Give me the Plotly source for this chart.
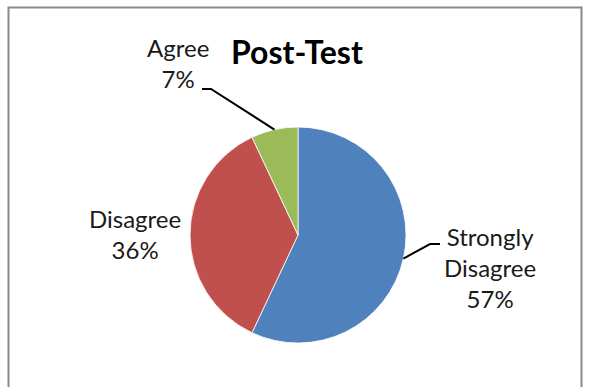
import math
import plotly.graph_objects as go

# Survey responses after the test (percent of respondents)
categories = ["Strongly Disagree", "Disagree", "Agree"]
label_lines = ["Strongly<br>Disagree", "Disagree", "Agree"]
values = [57, 36, 7]
colors = ["#4F81BD", "#C0504D", "#9BBB59"]

W, H = 589, 387
FONT = "Lato"

# Pie geometry in pixels
cx, cy, r = 298, 235, 108


def px(x):
    return x / W


def py(y):
    return 1 - y / H


fig = go.Figure()
fig.add_trace(go.Pie(
    labels=categories,
    values=values,
    sort=False,
    direction="clockwise",
    rotation=0,
    marker=dict(colors=colors, line=dict(color="white", width=0.8)),
    textinfo="none",
    hoverinfo="label+percent",
    showlegend=False,
    domain=dict(x=[px(cx - r), px(cx + r)], y=[py(cy + r), py(cy - r)]),
))

total = sum(values)
percents = [round(100 * v / total) for v in values]


def edge_point(idx):
    """Point on the pie rim at the middle of slice idx (clockwise from 12 o'clock)."""
    start = sum(values[:idx]) / total * 360
    mid = math.radians(start + values[idx] / total * 180)
    return cx + r * math.sin(mid), cy - r * math.cos(mid)


# Label placement (pixel centres) and leader-line elbows
label_pos = {
    0: (490, 267),
    1: (135, 234),
    2: (178, 63),
}
leaders = {
    0: [(430, 244), (440, 244)],
    2: [(211, 89), (202, 89)],
}

for i, (cxl, cyl) in label_pos.items():
    fig.add_annotation(
        x=px(cxl), y=py(cyl), xref="paper", yref="paper",
        text=f"{label_lines[i]}<br>{percents[i]}%",
        showarrow=False, xanchor="center", yanchor="middle",
        align="center",
        font=dict(family=FONT, size=24, color="#1a1a1a"),
    )

for i, elbow in leaders.items():
    pts = [edge_point(i)] + elbow
    path = "M " + " L ".join(f"{px(x)},{py(y)}" for x, y in pts)
    fig.add_shape(type="path", path=path, xref="paper", yref="paper",
                  line=dict(color="black", width=2))

# Chart title
fig.add_annotation(
    x=px(297), y=py(52), xref="paper", yref="paper",
    text="<b>Post-Test</b>", showarrow=False,
    xanchor="center", yanchor="middle",
    font=dict(family=FONT, size=32, color="black"),
)

# Chart-area frame
fig.add_shape(type="rect", xref="paper", yref="paper",
              x0=px(8.5), x1=px(581.5), y0=-0.05, y1=py(7.5),
              line=dict(color="#8a8a8a", width=2), fillcolor="rgba(0,0,0,0)")

fig.update_layout(
    width=W, height=H,
    margin=dict(l=0, r=0, t=0, b=0),
    paper_bgcolor="white", plot_bgcolor="white",
    font=dict(family=FONT),
)

fig.write_html("out.html")
